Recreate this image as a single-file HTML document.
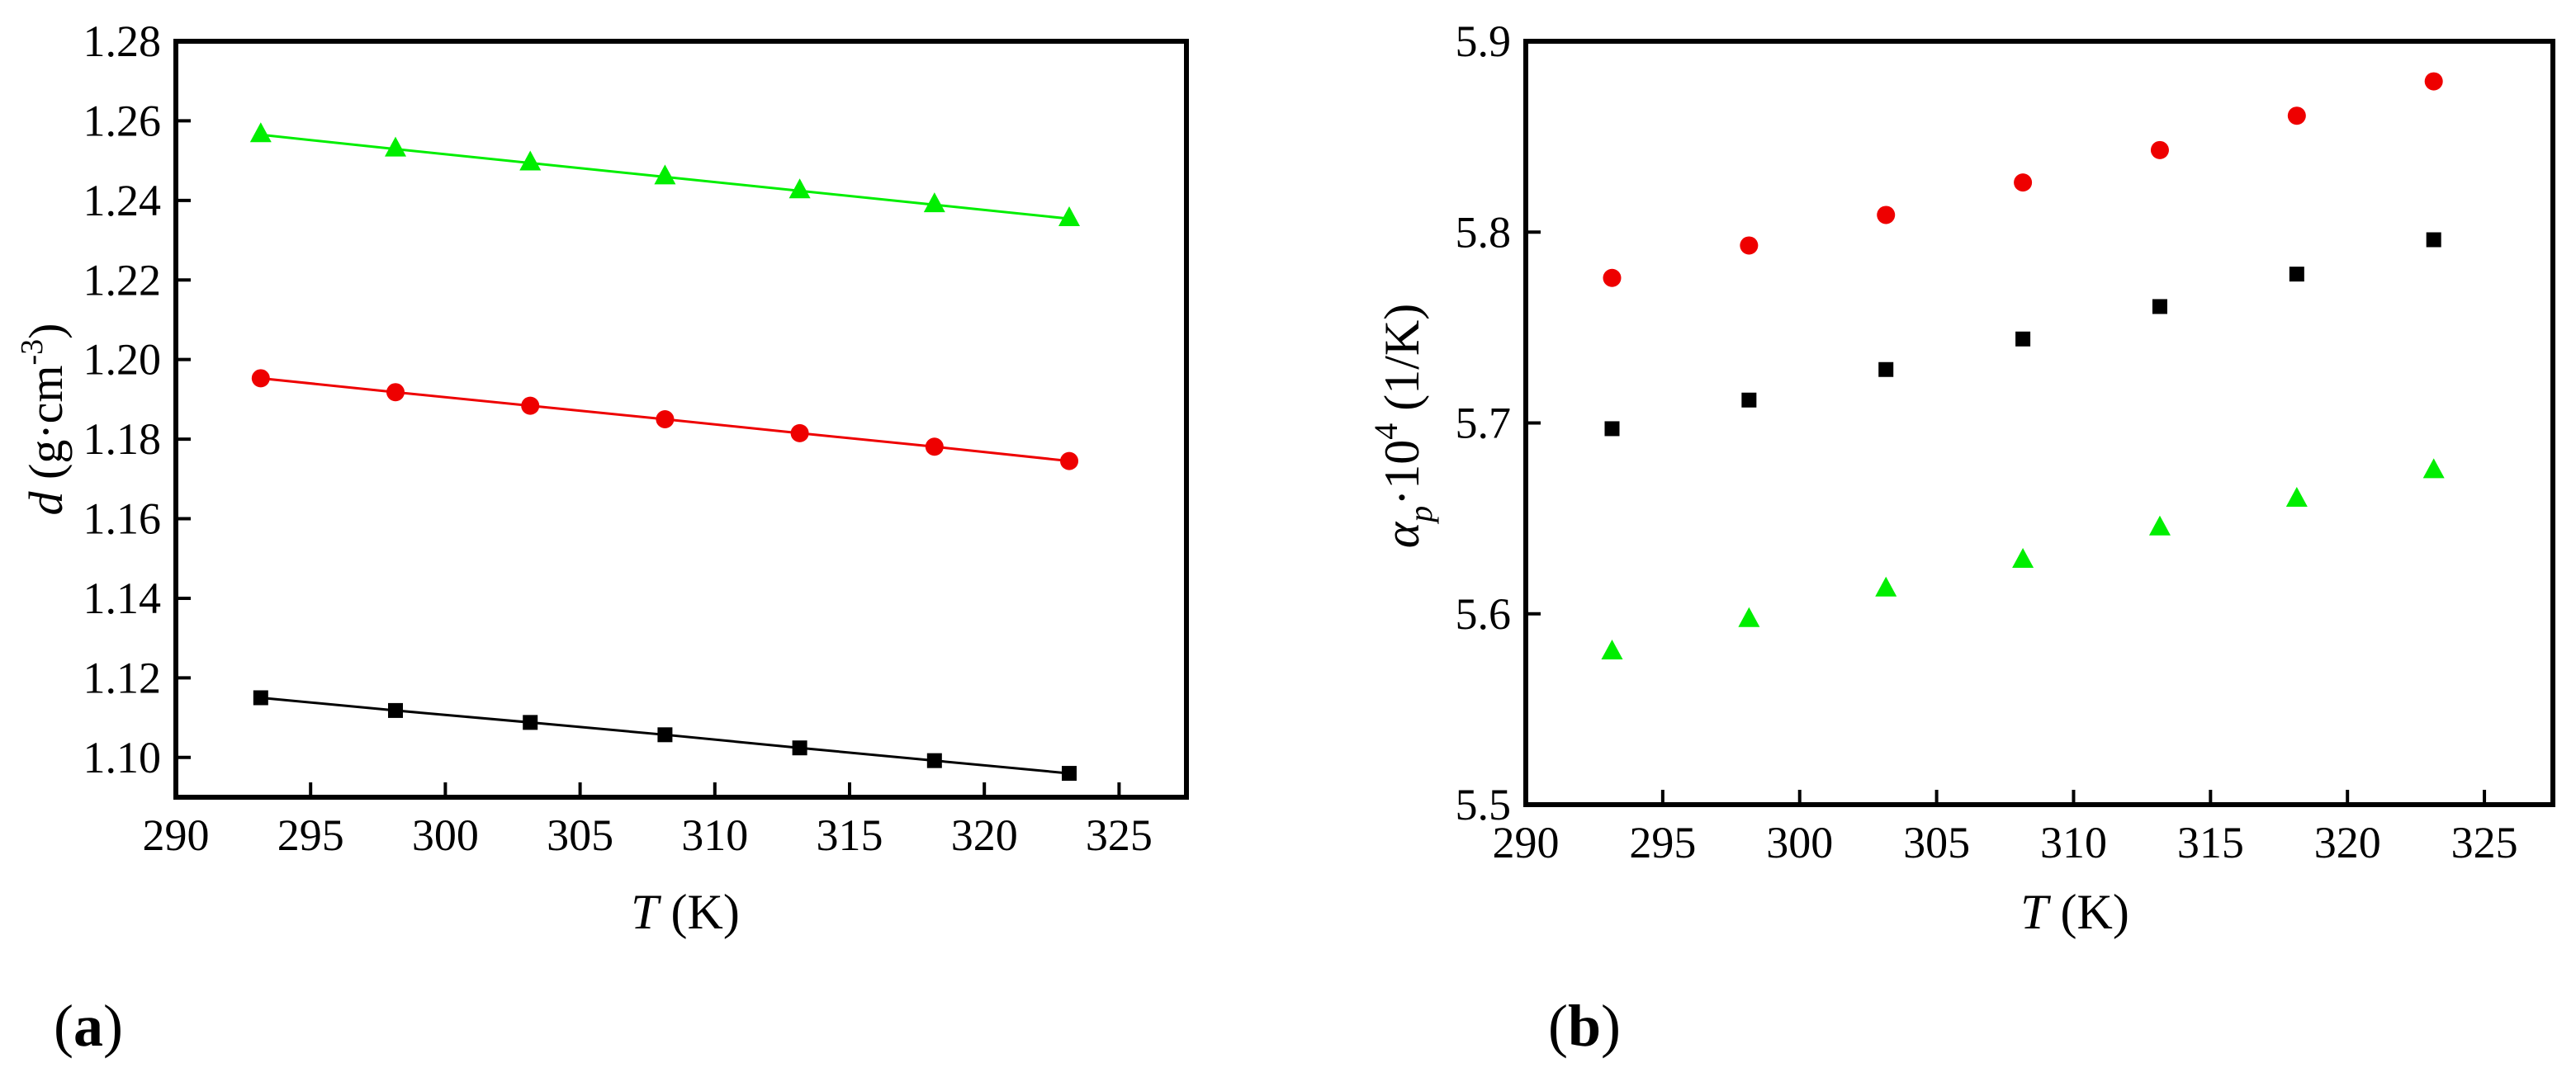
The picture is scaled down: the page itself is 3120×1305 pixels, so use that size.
<!DOCTYPE html>
<html><head><meta charset="utf-8"><style>
html,body{margin:0;padding:0;background:#fff;}
svg{display:block;font-family:"Liberation Serif",serif;}
</style></head><body>
<svg id="fig" width="3120" height="1305" viewBox="0 0 3120 1305" xmlns="http://www.w3.org/2000/svg">
<rect width="3120" height="1305" fill="#fff"/>
<g id="pa"></g>
<g id="pb"></g>
<text x="65" y="1267" font-size="72">(<tspan font-weight="bold">a</tspan>)</text>
<text x="1875" y="1267" font-size="72">(<tspan font-weight="bold">b</tspan>)</text>
<text x="830" y="1125" font-size="60" text-anchor="middle"><tspan font-style="italic">T</tspan> (K)</text>
<text x="1700" y="1125" font-size="60" text-anchor="middle" transform="translate(0,0)" dx="813"><tspan font-style="italic">T</tspan> (K)</text>
<text transform="translate(75,508) rotate(-90)" font-size="58" text-anchor="middle"><tspan font-style="italic">d</tspan> (g·cm<tspan dy="-24" font-size="38">-3</tspan><tspan dy="24">)</tspan></text>
<text transform="translate(1718,516) rotate(-90)" font-size="60" text-anchor="middle"><tspan font-style="italic">α</tspan><tspan font-style="italic" font-size="40" dy="16">p</tspan><tspan dy="-16">·10</tspan><tspan dy="-26" font-size="40">4</tspan><tspan dy="26"> (1/K)</tspan></text>
</svg>
<script>
const temps=[293.15,298.15,303.15,308.15,313.15,318.15,323.15];
const xTicks=[290,295,300,305,310,315,320,325];
const dGreen=[1.2565,1.2529,1.2494,1.2459,1.2424,1.2389,1.2354];
const dRed=[1.1953,1.1918,1.1884,1.1850,1.1815,1.1781,1.1745];
const dBlack=[1.1150,1.1118,1.1088,1.1057,1.1024,1.0992,1.0960];
const yTicksA=[1.10,1.12,1.14,1.16,1.18,1.20,1.22,1.24,1.26,1.28];
const aRed=[5.776,5.793,5.809,5.826,5.843,5.861,5.879];
const aBlack=[5.697,5.712,5.728,5.744,5.761,5.778,5.796];
const aGreen=[5.580,5.597,5.613,5.628,5.645,5.660,5.675];
const yTicksB=[5.5,5.6,5.7,5.8,5.9];
const NS='http://www.w3.org/2000/svg';
function mk(p,t,a){const e=document.createElementNS(NS,t);for(const k in a)e.setAttribute(k,a[k]);p.appendChild(e);return e;}
function panel(g,L,R,T,B,xmin,xmax,ymin,ymax,yTicks,dec,series,lines,nm){
  const sx=v=>L+(v-xmin)/(xmax-xmin)*(R-L);
  const sy=v=>B-(v-ymin)/(ymax-ymin)*(B-T);
  series.forEach(s=>{
    if(lines){const l=mk(g,'polyline',{points:temps.map((t,i)=>sx(t)+','+sy(s.v[i])).join(' '),fill:'none',stroke:s.c,'stroke-width':3});
      
      }
    temps.forEach((t,i)=>{const x=sx(t),y=sy(s.v[i]);let m;
      if(s.m==='sq')m=mk(g,'rect',{x:x-9,y:y-9,width:18,height:18,fill:s.c});
      else if(s.m==='ci')m=mk(g,'ellipse',{cx:x,cy:y,rx:11,ry:11,fill:s.c});
      else m=mk(g,'polygon',{points:`${x},${y-15} ${x-13},${y+9} ${x+13},${y+9}`,fill:s.c});
      
      });
  });
  xTicks.forEach(t=>{const x=sx(t);
    const tk=mk(g,'line',{x1:x,x2:x,y1:B,y2:B-18,stroke:'#000','stroke-width':4});
    
    
    const tx=mk(g,'text',{x:x,y:B+64,'font-size':54,'text-anchor':'middle'});tx.textContent=t;
    
    });
  yTicks.forEach(t=>{const y=sy(t);
    const tk=mk(g,'line',{x1:L,x2:L+18,y1:y,y2:y,stroke:'#000','stroke-width':4});
    
    
    const tx=mk(g,'text',{x:L-18,y:y+18,'font-size':54,'text-anchor':'end'});tx.textContent=t.toFixed(dec);
    
    });
  const f=mk(g,'rect',{x:L,y:T,width:R-L,height:B-T,fill:'none',stroke:'#000','stroke-width':6});
  
  
}
panel(document.getElementById('pa'),213,1437,50,966,290,327.5,1.09,1.28,yTicksA,2,
 [{v:dGreen,c:'#00ee00',m:'tr',n:'green'},{v:dRed,c:'#ee0000',m:'ci',n:'red'},{v:dBlack,c:'#000',m:'sq',n:'black'}],true,'panel-a');
panel(document.getElementById('pb'),1848,3092,50,975,290,327.5,5.5,5.9,yTicksB,1,
 [{v:aGreen,c:'#00ee00',m:'tr',n:'green'},{v:aRed,c:'#ee0000',m:'ci',n:'red'},{v:aBlack,c:'#000',m:'sq',n:'black'}],false,'panel-b');
</script>
</body></html>
